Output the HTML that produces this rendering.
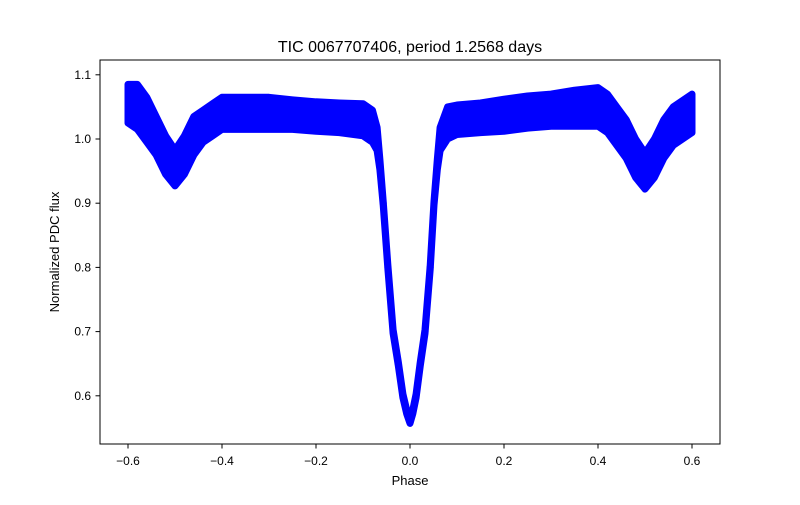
<!DOCTYPE html>
<html><head><meta charset="utf-8"><style>
body{margin:0;background:#fff;}
svg{font-family:"Liberation Sans","DejaVu Sans",sans-serif;}
</style></head><body>
<svg id="chart" width="800" height="500" viewBox="0 0 800 500" xmlns="http://www.w3.org/2000/svg">
<rect width="800" height="500" fill="#fff"/>
<text x="410" y="52" text-anchor="middle" font-size="16">TIC 0067707406, period 1.2568 days</text>
<g id="marks"></g>
<rect x="100" y="60" width="620" height="384" fill="none" stroke="#000" stroke-width="1"/>
<g id="xt"></g>
<g id="yt"></g>
<text x="410" y="485" text-anchor="middle" font-size="13">Phase</text>
<text transform="translate(59,252) rotate(-90)" text-anchor="middle" font-size="13">Normalized PDC flux</text>
</svg>
<script>
const phase = [-0.60,-0.58,-0.56,-0.54,-0.52,-0.50,-0.48,-0.46,-0.44,-0.42,-0.40,-0.35,-0.30,-0.25,-0.20,-0.15,-0.10,-0.08,-0.07,-0.064,-0.057,-0.047,-0.036,-0.025,-0.015,-0.007,0.0,0.006,0.013,0.022,0.032,0.043,0.051,0.058,0.064,0.08,0.10,0.15,0.20,0.25,0.30,0.35,0.40,0.42,0.44,0.46,0.48,0.50,0.52,0.54,0.56,0.58,0.60];
const flux = [1.055,1.05,1.03,1.005,0.975,0.955,0.975,1.005,1.02,1.03,1.04,1.04,1.04,1.038,1.035,1.033,1.03,1.02,1.0,0.96,0.9,0.8,0.7,0.65,0.6,0.575,0.56,0.575,0.6,0.65,0.7,0.8,0.9,0.96,1.0,1.025,1.03,1.033,1.037,1.042,1.045,1.048,1.05,1.04,1.02,1.0,0.97,0.95,0.97,1.0,1.02,1.03,1.04];
const spread = [0.03,0.035,0.035,0.03,0.03,0.028,0.03,0.03,0.025,0.025,0.025,0.025,0.025,0.023,0.023,0.023,0.025,0.025,0.018,0.008,0.003,0.003,0.003,0.003,0.003,0.003,0.003,0.003,0.003,0.003,0.003,0.003,0.003,0.008,0.018,0.025,0.023,0.023,0.025,0.025,0.025,0.028,0.03,0.03,0.03,0.03,0.03,0.028,0.03,0.03,0.03,0.03,0.03];
const xTicks = [-0.6,-0.4,-0.2,0.0,0.2,0.4,0.6];
const xLabels = ["−0.6","−0.4","−0.2","0.0","0.2","0.4","0.6"];
const yTicks = [0.6,0.7,0.8,0.9,1.0,1.1];
const yLabels = ["0.6","0.7","0.8","0.9","1.0","1.1"];
const X = v => 410 + v*470;
const Y = v => 139 - (v-1.0)*642;
const NS="http://www.w3.org/2000/svg";
const g=document.getElementById('marks');
let d="";
phase.forEach((p,i)=>{d+=(i?"L":"M")+X(p).toFixed(1)+","+Y(flux[i]+spread[i]).toFixed(1);});
for(let i=phase.length-1;i>=0;i--){d+="L"+X(phase[i]).toFixed(1)+","+Y(flux[i]-spread[i]).toFixed(1);}
d+="Z";
const band=document.createElementNS(NS,'path');


band.setAttribute('d',d);band.setAttribute('fill','#0000ff');band.setAttribute('stroke','#0000ff');
band.setAttribute('stroke-width','7');band.setAttribute('stroke-linejoin','round');
g.appendChild(band);
phase.forEach((p,i)=>{
 const c=document.createElementNS(NS,'circle');
 
 
 c.setAttribute('cx',X(p));c.setAttribute('cy',Y(flux[i]));c.setAttribute('r',3.5);c.setAttribute('fill','#0000ff');
 g.appendChild(c);
});
const xt=document.getElementById('xt');
xTicks.forEach((t,i)=>{
 const l=document.createElementNS(NS,'line');
 
 
 l.setAttribute('x1',X(t));l.setAttribute('x2',X(t));l.setAttribute('y1',444);l.setAttribute('y2',448.5);l.setAttribute('stroke','#000');
 xt.appendChild(l);
 const tx=document.createElementNS(NS,'text');
 
 
 tx.setAttribute('x',X(t));tx.setAttribute('y',465);tx.setAttribute('text-anchor','middle');tx.setAttribute('font-size','12');
 tx.textContent=xLabels[i];xt.appendChild(tx);
});
const yt=document.getElementById('yt');
yTicks.forEach((t,i)=>{
 const l=document.createElementNS(NS,'line');
 
 
 l.setAttribute('x1',95.5);l.setAttribute('x2',100);l.setAttribute('y1',Y(t));l.setAttribute('y2',Y(t));l.setAttribute('stroke','#000');
 yt.appendChild(l);
 const tx=document.createElementNS(NS,'text');
 
 
 tx.setAttribute('x',91);tx.setAttribute('y',Y(t)+4);tx.setAttribute('text-anchor','end');tx.setAttribute('font-size','12');
 tx.textContent=yLabels[i];yt.appendChild(tx);
});
</script>
</body></html>
